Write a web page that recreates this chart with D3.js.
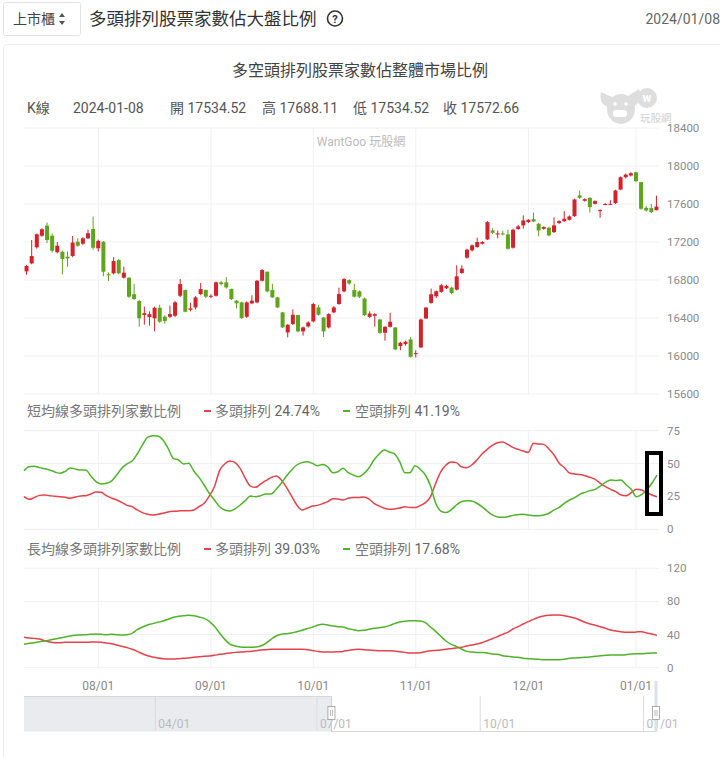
<!DOCTYPE html>
<html><head><meta charset="utf-8">
<script src="https://cdn.jsdelivr.net/npm/d3@7/dist/d3.min.js"></script>
<style>
body{margin:0;background:#fff;}
text{font-family:Roboto,"Noto Sans CJK TC",sans-serif;}
</style>
</head><body>
<svg id="c" width="720" height="757"></svg>
<script>
// ---------------- DATA ----------------
const dates = [
"2023-07-12","2023-07-13","2023-07-14","2023-07-17","2023-07-18","2023-07-19","2023-07-20","2023-07-21","2023-07-24","2023-07-25","2023-07-26","2023-07-27","2023-07-28","2023-07-31",
"2023-08-01","2023-08-02","2023-08-04","2023-08-07","2023-08-08","2023-08-09","2023-08-10","2023-08-11","2023-08-14","2023-08-15","2023-08-16","2023-08-17","2023-08-18","2023-08-21","2023-08-22","2023-08-23","2023-08-24","2023-08-25","2023-08-28","2023-08-29","2023-08-30","2023-08-31",
"2023-09-01","2023-09-04","2023-09-05","2023-09-06","2023-09-07","2023-09-08","2023-09-11","2023-09-12","2023-09-13","2023-09-14","2023-09-15","2023-09-18","2023-09-19","2023-09-20","2023-09-21","2023-09-22","2023-09-25","2023-09-26","2023-09-27","2023-09-28",
"2023-10-02","2023-10-03","2023-10-04","2023-10-05","2023-10-06","2023-10-11","2023-10-12","2023-10-13","2023-10-16","2023-10-17","2023-10-18","2023-10-19","2023-10-20","2023-10-23","2023-10-24","2023-10-25","2023-10-26","2023-10-27","2023-10-30","2023-10-31",
"2023-11-01","2023-11-02","2023-11-03","2023-11-06","2023-11-07","2023-11-08","2023-11-09","2023-11-10","2023-11-13","2023-11-14","2023-11-15","2023-11-16","2023-11-17","2023-11-20","2023-11-21","2023-11-22","2023-11-23","2023-11-24","2023-11-27","2023-11-28","2023-11-29","2023-11-30",
"2023-12-01","2023-12-04","2023-12-05","2023-12-06","2023-12-07","2023-12-08","2023-12-11","2023-12-12","2023-12-13","2023-12-14","2023-12-15","2023-12-18","2023-12-19","2023-12-20","2023-12-21","2023-12-22","2023-12-25","2023-12-26","2023-12-27","2023-12-28","2023-12-29",
"2024-01-02","2024-01-03","2024-01-04","2024-01-05","2024-01-08"];

const openP = [16891,16975,17144,17266,17372,17266,17092,17098,17045,17053,17203,17182,17239,17337,
17134,17203,16860,16870,17010,16824,16824,16650,16579,16432,16410,16397,16508,16414,16413,16424,16634,16694,16487,16511,16652,16694,
16624,16634,16775,16775,16705,16582,16564,16413,16554,16564,16792,16887,16694,16617,16459,16248,16336,16431,16259,16311,
16364,16511,16406,16301,16459,16547,16680,16799,16694,16680,16605,16412,16423,16384,16244,16307,16300,16104,16125,16174,
16020,16090,16395,16559,16629,16675,16713,16720,16699,16874,17035,17112,17147,17182,17227,17322,17287,17290,17280,17140,17336,17375,
17410,17441,17392,17339,17350,17304,17400,17420,17434,17472,17690,17634,17665,17602,17530,17595,17595,17609,17752,17882,17900,
17934,17830,17560,17557,17534.52];
const highP = [16960,17221,17290,17345,17405,17290,17200,17110,17100,17263,17240,17250,17330,17466,
17225,17210,16880,17040,17020,16940,16830,16760,16590,16520,16470,16520,16540,16430,16530,16580,16810,16700,16560,16630,16768,16700,
16650,16785,16790,16830,16710,16590,16570,16575,16640,16800,16915,16890,16760,16620,16465,16335,16490,16435,16310,16365,
16560,16540,16410,16450,16525,16720,16820,16805,16760,16690,16615,16470,16450,16390,16315,16454,16305,16150,16160,16200,
16060,16395,16515,16710,16690,16760,16750,16730,16955,16955,17130,17175,17245,17210,17420,17345,17320,17320,17330,17340,17380,17480,
17440,17510,17400,17365,17360,17460,17430,17525,17480,17655,17740,17660,17670,17640,17545,17610,17640,17750,17890,17920,17935,
17940,17835,17580,17600,17688.11];
const lowP = [16856,16965,17130,17255,17190,17090,17080,16860,16940,17040,17150,17170,17230,17120,
17100,16840,16790,16860,16860,16815,16610,16590,16308,16330,16320,16260,16350,16340,16400,16410,16620,16460,16470,16490,16640,16610,
16610,16625,16745,16710,16590,16500,16390,16400,16545,16555,16785,16670,16610,16505,16295,16196,16325,16250,16215,16300,
16355,16425,16200,16290,16450,16540,16670,16750,16615,16610,16420,16400,16310,16235,16160,16300,16060,16060,16110,15985,
15985,16085,16390,16550,16610,16665,16705,16650,16690,16865,17025,17100,17140,17175,17220,17285,17240,17270,17120,17130,17330,17340,
17400,17410,17260,17330,17260,17295,17390,17410,17425,17465,17655,17625,17510,17595,17455,17590,17590,17600,17745,17870,17890,
17830,17540,17520,17505,17534.52];
const closeP = [16947,17052,17281,17334,17221,17108,17161,17021,17028,17194,17161,17239,17292,17140,
17211,16887,16853,16999,16870,16877,16624,16600,16397,16450,16440,16508,16361,16368,16441,16564,16757,16466,16501,16617,16704,16624,
16634,16775,16757,16722,16599,16554,16399,16564,16582,16792,16905,16680,16617,16511,16301,16329,16434,16259,16301,16353,
16547,16434,16259,16441,16511,16652,16810,16764,16624,16624,16430,16447,16440,16244,16307,16360,16069,16139,16150,15992,
16030,16384,16510,16650,16682,16745,16738,16664,16839,16920,17119,17165,17200,17200,17409,17297,17290,17287,17129,17329,17364,17427,
17434,17416,17322,17357,17270,17375,17420,17445,17469,17648,17665,17651,17567,17630,17535,17600,17602,17742,17882,17910,17924,
17840,17550,17532,17515,17572.66];

// 短均線 (short MA arrangement ratio, %)
const shortBull = [24.8,22.8,24.1,25.8,26.1,25.6,25.1,24.8,24.3,23.6,24.6,25.3,25.6,26.9,
28.4,28.1,25.6,23.8,22.3,20.5,18.2,17.2,14.7,12.7,11.4,10.9,11.4,12.2,13.2,13.7,13.9,14.2,14.2,14.7,17.2,19.8,
25.3,32.4,44.6,49.7,51.9,50.7,46.4,38.8,32.9,31.9,34.5,37.0,39.3,40.5,37.5,31.9,25.3,18.5,14.7,16.0,
17.7,18.2,19.5,21.0,23.3,23.1,22.3,23.6,24.1,24.1,24.6,23.1,19.8,17.7,16.0,15.2,15.5,16.2,17.2,16.5,
16.5,18.0,20.3,24.8,35.0,43.8,48.9,51.2,50.7,47.6,46.9,48.9,52.7,57.3,60.8,63.8,65.9,66.4,64.6,62.3,60.8,59.5,
58.5,65.4,64.9,64.6,61.1,56.5,50.2,46.9,42.8,42.1,41.6,40.8,39.5,38.0,35.0,32.4,30.4,28.6,26.1,25.6,27.9,
30.4,29.9,27.9,26.1,24.74];
const shortBear = [44.6,47.6,47.9,46.9,46.1,45.1,43.6,42.6,44.1,46.6,45.9,45.1,45.1,40.5,
36.2,34.5,35.0,36.7,41.3,46.4,49.7,51.9,57.3,64.1,69.9,71.2,70.9,67.9,61.6,54.0,52.7,49.7,50.2,44.3,39.5,33.7,
27.4,22.3,17.2,14.7,13.9,15.5,18.5,21.8,25.3,24.8,25.6,26.9,26.9,30.4,35.0,40.5,45.1,48.9,50.7,51.4,
50.2,48.4,49.2,47.6,43.1,43.8,46.4,43.1,41.3,40.0,42.1,46.4,52.7,57.3,60.3,58.8,57.3,51.4,43.1,43.1,
48.4,45.6,41.3,32.9,19.8,13.9,12.7,14.7,18.5,21.0,21.8,21.5,19.8,17.2,13.9,10.9,9.4,9.1,9.6,10.6,11.1,11.4,
10.9,10.4,10.4,10.9,12.2,14.7,16.7,19.8,22.3,24.1,26.6,28.1,29.4,30.4,32.9,35.7,37.5,37.2,37.5,33.9,30.4,
24.8,26.3,29.9,35.0,41.19];

// 長均線 (long MA arrangement ratio, %)
const longBull = [36.7,35.8,35.4,34.6,32.6,31.0,30.2,30.2,30.6,30.6,30.6,30.6,30.6,31.0,
31.0,30.6,29.8,29.0,27.4,25.8,24.2,22.2,19.7,16.9,14.5,12.9,11.7,10.9,10.5,10.5,10.9,11.3,11.7,12.5,13.3,13.7,
14.1,14.9,16.1,16.9,17.7,18.5,18.9,19.3,19.7,20.5,21.3,21.7,22.2,22.2,22.2,22.2,22.2,22.2,22.2,21.7,
20.9,19.7,18.9,18.9,18.9,19.3,19.7,20.9,21.7,22.2,21.7,21.3,20.9,20.5,20.5,20.5,20.1,19.3,18.5,17.7,
17.7,18.1,19.3,20.5,20.9,21.3,22.2,23.0,23.8,24.6,26.2,27.4,28.6,30.2,32.6,35.0,37.5,40.3,42.7,46.7,49.5,52.8,
55.6,58.4,60.8,62.4,63.2,63.6,63.6,62.8,61.6,60.0,57.6,54.8,52.8,51.2,49.5,47.5,45.5,44.3,43.5,42.7,42.7,
43.1,43.5,41.9,40.7,39.03];
const longBear = [28.2,29.4,30.2,31.4,32.2,33.4,34.6,35.8,37.1,38.3,39.1,39.5,39.9,40.3,
40.7,40.3,39.9,40.3,39.9,39.5,39.9,41.5,45.9,49.1,51.6,53.2,54.8,56.4,58.4,60.8,62.0,62.8,63.2,62.8,61.2,59.6,
56.0,49.9,41.9,34.2,28.6,26.2,25.0,24.6,24.6,25.0,26.2,29.4,34.2,38.3,40.3,41.1,41.9,43.5,45.1,47.1,
48.7,51.2,52.4,51.6,50.3,49.5,49.1,47.1,45.9,44.7,45.1,46.3,47.5,48.3,49.1,50.8,53.2,55.2,56.0,56.8,
56.8,56.4,54.4,49.1,43.9,37.9,32.2,28.2,25.8,22.6,19.7,18.9,18.5,18.5,17.7,16.5,16.1,14.5,13.7,12.9,12.5,11.3,
10.9,10.5,10.1,9.7,9.7,9.7,9.7,10.1,11.3,11.7,12.1,12.5,12.9,13.7,14.5,14.9,15.3,15.3,15.3,15.7,16.5,
16.9,16.9,17.3,17.7,17.68];

const priceTicks = [15600,16000,16400,16800,17200,17600,18000,18400];
const shortTicks = [0,25,50,75];
const longTicks = [0,40,80,120];
const sliderTicks = ["2023-04-01","2023-07-01","2023-10-01","2024-01-01"];
const sliderRange = ["2023-01-17","2024-01-08"];

// ---------------- DRAW ----------------
const RED = "#d2222a", GREEN = "#5ea41c";
const LRED = "#e5424a", LGREEN = "#4fb32a";
const GRID = "#f0f0f0", AXT = "#8a8a8a";
const svg = d3.select("#c");
const X0 = 24, X1 = 659;
const n = dates.length;
const xb = d3.scaleBand().domain(dates).range([X0, X1]).padding(0);
const xc = d => xb(d) + xb.bandwidth()/2;
const xl = d3.scalePoint().domain(dates).range([24, 657]);
const parse = d3.timeParse("%Y-%m-%d");
const fmt = d3.timeFormat("%m/%d");
const monthStarts = dates.filter((d,i)=> i>0 && dates[i-1].slice(0,7)!==d.slice(0,7));

// header
svg.append("rect").attr("x",3.5).attr("y",2.5).attr("width",77).attr("height",33)
  .attr("fill","#fff").attr("stroke","#e3e3e3").attr("rx",2);
svg.append("text").attr("x",13).attr("y",24).attr("font-size",14).attr("fill","#444").text("上市櫃");
svg.append("path").attr("d","M59,17 l3,-4 l3,4 z M59,21 l3,4 l3,-4 z").attr("fill","#555");
svg.append("text").attr("x",89).attr("y",25).attr("font-size",17.5).attr("fill","#333").text("多頭排列股票家數佔大盤比例");
svg.append("circle").attr("cx",335).attr("cy",18.5).attr("r",7.5).attr("fill","none").attr("stroke","#333").attr("stroke-width",1.6);
svg.append("text").attr("x",335).attr("y",22.5).attr("text-anchor","middle").attr("font-size",11).attr("font-weight","bold").attr("fill","#333").text("?");
svg.append("text").attr("x",720).attr("y",24).attr("text-anchor","end").attr("font-size",14).attr("fill","#666")
  .text(dates[n-1].replace(/-/g,"/"));

// card
svg.append("path").attr("d","M3.5,757 L3.5,49 Q3.5,44.5 8,44.5 L720,44.5").attr("fill","none").attr("stroke","#ececec");

svg.append("text").attr("x",360).attr("y",76).attr("text-anchor","middle").attr("font-size",16).attr("fill","#444")
  .text("多空頭排列股票家數佔整體市場比例");

// K line info
const L = n-1;
const info = [["K線",27],[dates[L],73],["開 "+openP[L].toFixed(2),170],["高 "+highP[L].toFixed(2),262],["低 "+lowP[L].toFixed(2),353],["收 "+closeP[L].toFixed(2),443]];
info.forEach(([t,x])=> svg.append("text").attr("x",x).attr("y",113).attr("font-size",14).attr("fill","#555").text(t));

// logo watermark
const lg = svg.append("g").attr("fill","#dedede");
lg.append("path").attr("d","M601,92 Q598,106 612,108 L612,97 Z");
lg.append("path").attr("d","M639,89 Q644,104 630,108 L628,96 Z");
lg.append("ellipse").attr("cx",621).attr("cy",109).attr("rx",14).attr("ry",15);
lg.append("circle").attr("cx",647).attr("cy",98).attr("r",10);
lg.append("text").attr("x",647).attr("y",102).attr("text-anchor","middle").attr("font-size",12).attr("font-weight","bold").attr("fill","#fff").text("w");
lg.append("rect").attr("x",613).attr("y",110).attr("width",14).attr("height",7).attr("fill","#fff").attr("rx",3);
lg.append("circle").attr("cx",615).attr("cy",104).attr("r",1.8).attr("fill","#fff");
lg.append("circle").attr("cx",626).attr("cy",104).attr("r",1.8).attr("fill","#fff");
svg.append("text").attr("x",640).attr("y",122).attr("font-size",10.5).attr("fill","#d0d0d0").text("玩股網");

// ---- panel helper
function panel(y, ticks, top, bottom){
  const g = svg.append("g");
  ticks.forEach(t=>{
    g.append("line").attr("x1",X0).attr("x2",X1).attr("y1",y(t)).attr("y2",y(t)).attr("stroke",GRID);
    g.append("text").attr("x",667).attr("y",y(t)+4).attr("font-size",11.5).attr("fill",AXT).text(t);
  });
  monthStarts.forEach(d=>{
    g.append("line").attr("x1",xc(d)).attr("x2",xc(d)).attr("y1",top).attr("y2",bottom).attr("stroke",GRID);
  });
  return g;
}

// ---- candle panel
const yP = d3.scaleLinear().domain([15600,18400]).range([394,128]);
panel(yP, priceTicks, 128, 394);
svg.append("text").attr("x",361).attr("y",146).attr("text-anchor","middle").attr("font-size",12).attr("fill","#bbb").text("WantGoo 玩股網");
const cg = svg.append("g");
dates.forEach((d,i)=>{
  const up = closeP[i] >= openP[i];
  const col = up ? RED : GREEN;
  const x = xc(d);
  cg.append("line").attr("x1",x).attr("x2",x).attr("y1",yP(highP[i])).attr("y2",yP(lowP[i])).attr("stroke",col).attr("stroke-width",1);
  const yt = yP(Math.max(openP[i],closeP[i])), yb = yP(Math.min(openP[i],closeP[i]));
  cg.append("rect").attr("x",x-2).attr("width",4).attr("y",yt).attr("height",Math.max(1,yb-yt)).attr("fill",col);
});

// ---- legends
function legend(y, title, bull, bear){
  svg.append("text").attr("x",27).attr("y",y+5).attr("font-size",14).attr("fill","#777").text(title);
  svg.append("rect").attr("x",204).attr("y",y-1).attr("width",7).attr("height",2).attr("fill",LRED);
  const t1 = svg.append("text").attr("x",215).attr("y",y+5).attr("font-size",14).attr("fill","#777");
  t1.append("tspan").text("多頭排列 ");
  t1.append("tspan").attr("fill","#666").text(bull.toFixed(2)+"%");
  svg.append("rect").attr("x",343).attr("y",y-1).attr("width",7).attr("height",2).attr("fill",LGREEN);
  const t2 = svg.append("text").attr("x",355).attr("y",y+5).attr("font-size",14).attr("fill","#777");
  t2.append("tspan").text("空頭排列 ");
  t2.append("tspan").attr("fill","#666").text(bear.toFixed(2)+"%");
}

// ---- short panel
const yS = d3.scaleLinear().domain([0,75]).range([529.3,430.7]);
legend(411, "短均線多頭排列家數比例", shortBull[L], shortBear[L]);
panel(yS, shortTicks, 431, 529);
const lineS = d3.line().x((v,i)=>xl(dates[i])).y(v=>yS(v)).curve(d3.curveMonotoneX);
svg.append("path").attr("d",lineS(shortBull)).attr("fill","none").attr("stroke",LRED).attr("stroke-width",1.5);
svg.append("path").attr("d",lineS(shortBear)).attr("fill","none").attr("stroke",LGREEN).attr("stroke-width",1.5);
svg.append("rect").attr("x",647).attr("y",453).attr("width",14).attr("height",61).attr("fill","none").attr("stroke","#000").attr("stroke-width",4);

// ---- long panel
const yLg = d3.scaleLinear().domain([0,120]).range([667.7,568.3]);
legend(549, "長均線多頭排列家數比例", longBull[L], longBear[L]);
panel(yLg, longTicks, 568, 668);
const lineL = d3.line().x((v,i)=>xl(dates[i])).y(v=>yLg(v)).curve(d3.curveMonotoneX);
svg.append("path").attr("d",lineL(longBull)).attr("fill","none").attr("stroke",LRED).attr("stroke-width",1.5);
svg.append("path").attr("d",lineL(longBear)).attr("fill","none").attr("stroke",LGREEN).attr("stroke-width",1.5);

// x labels
monthStarts.forEach(d=>{
  svg.append("text").attr("x",xc(d)).attr("y",690).attr("text-anchor","middle").attr("font-size",12).attr("fill",AXT)
    .text(fmt(parse(d)).slice(0,3)+"01");
});

// ---- slider
const xs = d3.scaleTime().domain(sliderRange.map(parse)).range([24,656]);
const selX = xs(parse(dates[0])) - 5;
svg.append("rect").attr("x",24).attr("y",696).attr("width",selX-24).attr("height",35.5).attr("fill","#e9ebee");
svg.append("line").attr("x1",24).attr("x2",selX).attr("y1",696.5).attr("y2",696.5).attr("stroke","#d5d9df");
svg.append("line").attr("x1",selX).attr("x2",656).attr("y1",731.5).attr("y2",731.5).attr("stroke","#d5d9df");
sliderTicks.forEach(t=>{
  const x = xs(parse(t));
  svg.append("line").attr("x1",x).attr("x2",x).attr("y1",696).attr("y2",731).attr("stroke","#d8dbe0");
  svg.append("text").attr("x",x+3).attr("y",728).attr("font-size",12).attr("fill","#bbb").text(fmt(parse(t)));
});
svg.append("line").attr("x1",selX).attr("x2",selX).attr("y1",696).attr("y2",732).attr("stroke","#c9ced6");
svg.append("line").attr("x1",656).attr("x2",656).attr("y1",681).attr("y2",732).attr("stroke","#dde0e5").attr("stroke-width",3);
[selX,656].forEach(x=>{
  svg.append("rect").attr("x",x-3.5).attr("y",706.5).attr("width",7).attr("height",13).attr("fill","#fff").attr("stroke","#999").attr("stroke-width",0.8);
  svg.append("line").attr("x1",x-1).attr("x2",x-1).attr("y1",710).attr("y2",716).attr("stroke","#999").attr("stroke-width",0.7);
  svg.append("line").attr("x1",x+1).attr("x2",x+1).attr("y1",710).attr("y2",716).attr("stroke","#999").attr("stroke-width",0.7);
});
</script>
</body></html>
